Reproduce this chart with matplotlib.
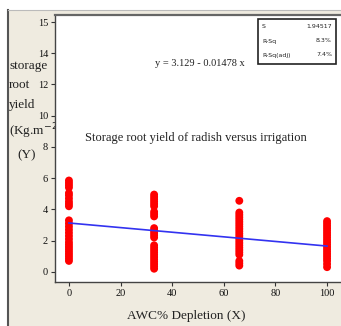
import matplotlib
matplotlib.use("Agg")
import matplotlib.pyplot as plt
from matplotlib.patches import Rectangle
from matplotlib.lines import Line2D
import numpy as np

# Data
depletion_levels = [0, 33, 66, 100]
yield_d0 = [0.7, 0.85, 1.0, 1.15, 1.3, 1.45, 1.6, 1.75, 1.9, 2.1, 2.3, 2.5, 2.7, 2.9, 3.1, 3.3,
            4.2, 4.35, 4.5, 4.7, 4.9, 5.05, 5.4, 5.55, 5.7, 5.85]
yield_d33 = [0.2, 0.35, 0.5, 0.65, 0.8, 0.95, 1.1, 1.25, 1.4, 1.55, 1.7, 2.2, 2.35, 2.5, 2.65, 2.8,
             3.55, 3.7, 3.85, 4.2, 4.35, 4.5, 4.65, 4.8, 4.95]
yield_d66 = [0.4, 0.55, 0.7, 1.1, 1.25, 1.4, 1.55, 1.7, 1.85, 2.0, 2.15, 2.3, 2.45, 2.6, 2.75, 2.9,
             3.05, 3.2, 3.35, 3.5, 3.65, 3.8, 4.55]
yield_d100 = [0.3, 0.5, 0.7, 0.85, 1.0, 1.15, 1.3, 1.45, 1.6, 1.75, 1.9, 2.05, 2.2, 2.35, 2.5, 2.65,
              2.8, 2.95, 3.1, 3.25]
intercept = 3.129
slope = -0.01478
stats_labels = ["S", "R-Sq", "R-Sq(adj)"]
stats_values = ["1.94517", "8.3%", "7.4%"]
xticks = [0, 20, 40, 60, 80, 100]
yticks = [0, 2, 4, 6, 8, 10, 12, 14, 16]
ytick_labels = ["0", "2", "4", "6", "8", "10", "12", "14", "15"]

W, H = 341, 326
fig = plt.figure(figsize=(W / 100, H / 100), dpi=100, facecolor="white")

def fx(px):
    return px / W

def fy(py):
    return 1 - py / H

# beige panel
fig.patches.append(Rectangle((fx(8), 0), 1 - fx(8), fy(10), transform=fig.transFigure,
                             facecolor="#efebe0", edgecolor="none", zorder=-2))
fig.lines.append(Line2D([fx(8), fx(8)], [0, fy(10)], transform=fig.transFigure,
                        color="#555555", lw=1.5, zorder=-1))
fig.lines.append(Line2D([fx(8), 1], [fy(10), fy(10)], transform=fig.transFigure,
                        color="#bbbbbb", lw=0.8, zorder=-1))

ax = fig.add_axes([fx(55), fy(282), fx(341) - fx(55), fy(15) - fy(282)])
ax.set_facecolor("white")
ax.set_zorder(0)

all_groups = [yield_d0, yield_d33, yield_d66, yield_d100]
for lvl, ys in zip(depletion_levels, all_groups):
    ax.scatter([lvl] * len(ys), ys, s=32, color="#ff0000", edgecolors="none", zorder=3)

xl = np.array([depletion_levels[0], depletion_levels[-1]])
ax.plot(xl, intercept + slope * xl, color="#3333f0", lw=1.2, zorder=4)

ax.set_xlim(-5.4, 105.4)
ax.set_ylim(-0.65, 16.45)
ax.set_xticks(xticks)
ax.set_yticks(yticks)
ax.set_yticklabels(ytick_labels)
ax.tick_params(labelsize=7.5, length=3, width=0.8, colors="#333333", pad=2)
for lab in ax.get_xticklabels() + ax.get_yticklabels():
    lab.set_family("Liberation Serif")
    lab.set_color("#111111")
for s in ["left", "bottom", "top"]:
    ax.spines[s].set_color("#444444")
    ax.spines[s].set_linewidth(1.0)
ax.spines["top"].set_linewidth(1.6)
ax.spines["top"].set_color("#666666")
ax.spines["right"].set_visible(False)

serif = "Liberation Serif"
fig.text(fx(200), fy(63), "y = 3.129 - 0.01478 x", family=serif, fontsize=7.5,
         ha="center", va="center", color="#222222")
fig.text(fx(196), fy(138), "Storage root yield of radish versus irrigation", family=serif,
         fontsize=9, ha="center", va="center", color="#222222")
fig.text(fx(186), fy(316), "AWC% Depletion (X)", family=serif, fontsize=9.5,
         ha="center", va="center", color="#222222")

ylab_lines = [("storage", 66), ("root", 85), ("yield", 105), ("(Kg.m$^{-2}$", 131), ("(Y)", 155)]
for t, yy in ylab_lines:
    xx = 9 if t != "(Y)" else 17
    fig.text(fx(xx), fy(yy), t, family=serif, fontsize=9.5, ha="left", va="center",
             color="#222222", zorder=-0.5)

# stats box
bx0, by0, bx1, by1 = 258, 19, 336, 64
fig.patches.append(Rectangle((fx(bx0), fy(by1)), fx(bx1) - fx(bx0), fy(by0) - fy(by1),
                             transform=fig.transFigure, facecolor="white",
                             edgecolor="#222222", lw=1.2, zorder=5))
for i, (lab, val) in enumerate(zip(stats_labels, stats_values)):
    yy = 27 + i * 14
    fig.text(fx(262), fy(yy), lab, fontsize=4.5, ha="left", va="center", color="#222222", zorder=6)
    fig.text(fx(332), fy(yy), val, fontsize=4.5, ha="right", va="center", color="#222222", zorder=6)

fig.savefig("out.png", dpi=100)
